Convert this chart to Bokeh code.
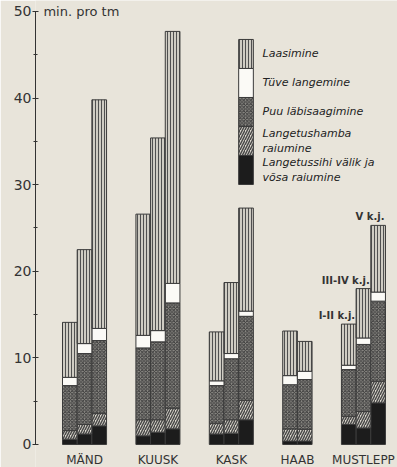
from bokeh.plotting import figure
from bokeh.models import Range1d, ColumnDataSource, SingleIntervalTicker
from bokeh.core.properties import value
from bokeh.embed import file_html
from bokeh.resources import INLINE

# ---------------- data (min per tm) ----------------
species = ["MÄND", "KUUSK", "KASK", "HAAB", "MUSTLEPP"]
bars_per_species = [3, 3, 3, 2, 3]
# layers, bottom to top, one value per bar (left to right)
sihi      = [0.6, 1.2, 2.15, 1.0, 1.4, 1.8, 1.2, 1.3, 2.85, 0.4, 0.4, 2.3, 1.9, 4.8]
hamba     = [1.0, 1.1, 1.45, 1.85, 1.45, 2.4, 1.25, 1.55, 2.25, 1.4, 1.35, 0.95, 1.9, 2.5]
saagimine = [5.2, 8.2, 8.4, 8.3, 9.0, 12.15, 4.35, 7.05, 9.7, 5.1, 5.75, 5.4, 7.75, 9.25]
langemine = [0.95, 1.15, 1.4, 1.45, 1.3, 2.25, 0.55, 0.6, 0.6, 1.05, 0.95, 0.5, 0.75, 1.05]
laasimine = [6.35, 10.85, 26.4, 14.0, 22.25, 29.1, 5.65, 8.2, 11.9, 5.15, 3.45, 4.75, 5.7, 7.7]
class_labels = ["I-II k.j.", "III-IV k.j.", "V k.j."]   # above MUSTLEPP bars
legend_labels = ["Laasimine", "Tüve langemine", "Puu läbisaagimine",
                 "Langetushamba\n raiumine", "Langetussihi välik ja\n võsa raiumine"]
y_unit_label = "min. pro tm"

# ---------------- styling ----------------
BG = "#e8e4da"
INK = "#333333"
layer_names = ["sihi", "hamba", "saagimine", "langemine", "laasimine"]
fills   = ["#1c1c1c", "#dad6cc", "#8f8d88", "#fbfaf6", "#cfccc3"]
hatches = [" ", "/", "x", " ", "|"]
hcolors = ["#1c1c1c", "#4a4a4a", "#3a3a3a", "#fbfaf6", "#505050"]
hscales = [4, 5, 3.5, 4, 3]
hweights = [1, 1.5, 1, 1, 1]

# ---------------- positions ----------------
GAP = 2
xs, centers = [], []
pos = 0
for n in bars_per_species:
    start = pos
    for _ in range(n):
        xs.append(pos + 0.5)
        pos += 1
    centers.append((start + pos) / 2)
    pos += GAP

src = ColumnDataSource(dict(x=xs, sihi=sihi, hamba=hamba, saagimine=saagimine,
                            langemine=langemine, laasimine=laasimine))

p = figure(width=397, height=467, output_backend="svg", toolbar_location=None,
           x_range=Range1d(-1.84, 22.82), y_range=Range1d(-2.66, 51.27),
           min_border_left=35, min_border_right=0, min_border_top=0, min_border_bottom=0)
p.background_fill_color = BG
p.border_fill_color = BG
p.outline_line_color = None
p.xgrid.visible = False
p.ygrid.visible = False
p.xaxis.visible = False

p.vbar_stack(layer_names, x="x", width=1, source=src,
             fill_color=fills, hatch_pattern=hatches, hatch_color=hcolors,
             hatch_scale=hscales, hatch_weight=hweights,
             line_color="#3a3a3a", line_width=1)

# species names under the groups
p.text(x=centers, y=[0] * len(centers), text=species, text_align="center",
       text_baseline="top", y_offset=9, text_font=value("DejaVu Sans"),
       text_font_size="12px", text_color=INK)

# class labels above MUSTLEPP bars
totals = [a + b + c + d + e for a, b, c, d, e in zip(sihi, hamba, saagimine, langemine, laasimine)]
n_last = bars_per_species[-1]
p.text(x=[x + 0.5 for x in xs[-n_last:]], y=totals[-n_last:], text=class_labels,
       text_align="right", text_baseline="bottom", x_offset=-1, y_offset=-3,
       text_font=value("DejaVu Sans"), text_font_size="10px", text_font_style="bold",
       text_color=INK)

# legend column (drawn over KASK third bar position)
leg_x = xs[8]
leg_top = 46.77
leg_seg = 3.35
tops = [leg_top - i * leg_seg for i in range(5)]
for i, li in enumerate([4, 3, 2, 1, 0]):
    p.quad(left=leg_x - 0.5, right=leg_x + 0.5, top=tops[i], bottom=tops[i] - leg_seg,
           fill_color=fills[li], hatch_pattern=hatches[li], hatch_color=hcolors[li],
           hatch_scale=hscales[li], hatch_weight=hweights[li],
           line_color="#3a3a3a", line_width=1)
p.text(x=[leg_x + 1.13] * 5, y=[t - leg_seg / 2 for t in tops], text=legend_labels,
       text_align="left", text_baseline="middle", text_line_height=1.1,
       text_font=value("DejaVu Sans"), text_font_size="11px", text_font_style="italic",
       text_color="#222222")

# unit label at top of y axis
p.text(x=[-1.3], y=[50], text=[y_unit_label], text_align="left", text_baseline="middle",
       text_font=value("DejaVu Sans"), text_font_size="13px", text_color=INK)

# y axis
ya = p.yaxis[0]
ya.ticker = SingleIntervalTicker(interval=10, num_minor_ticks=2)
ya.bounds = (0, 50)
ya.axis_line_color = INK
ya.major_tick_line_color = INK
ya.minor_tick_line_color = INK
ya.major_tick_out = 3
ya.major_tick_in = 3
ya.minor_tick_out = 2
ya.minor_tick_in = 2
ya.major_label_standoff = 1
ya.major_label_text_font = "DejaVu Sans"
ya.major_label_text_font_size = "14px"
ya.major_label_text_color = INK

open("out.html", "w").write(file_html(p, INLINE))
